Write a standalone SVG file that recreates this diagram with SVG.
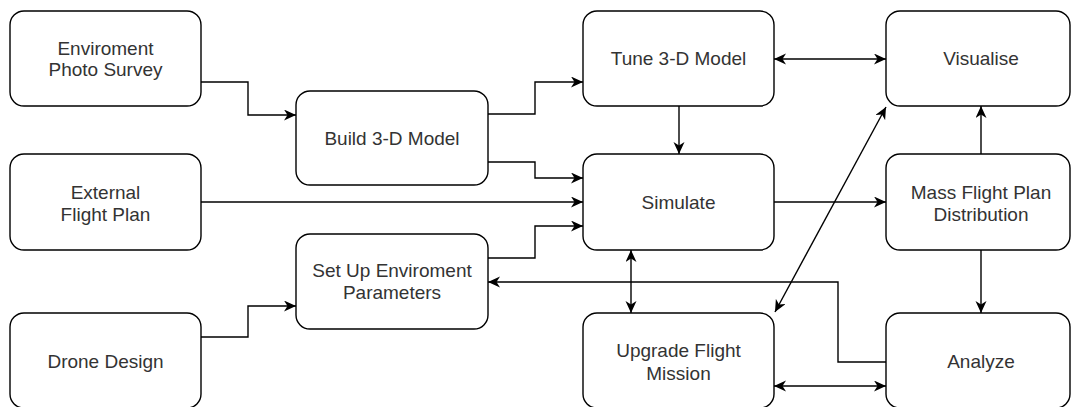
<svg xmlns="http://www.w3.org/2000/svg" width="1071" height="407" viewBox="0 0 1071 407">
<style>
.box{fill:#fff;stroke:#000;stroke-width:1.4}
.lbl{font-family:"Liberation Sans",Arial,sans-serif;font-size:19px;fill:#333;text-anchor:middle}
.c{fill:none;stroke:#000;stroke-width:1.4}
.a{marker-end:url(#ah)}
.b{marker-start:url(#ah);marker-end:url(#ah)}
</style>
<defs>
<marker id="ah" markerUnits="userSpaceOnUse" markerWidth="13" markerHeight="12" refX="12" refY="5.5" orient="auto-start-reverse">
<path d="M0,0 L12,5.5 L0,11 L3.5,5.5 Z" fill="#000"/>
</marker>
</defs>
<rect width="1071" height="407" fill="#fff"/>
<g id="connectors">
<path class="c a" d="M201,82 H248 V115 H296"/>
<path class="c a" d="M488,114 H535 V82 H583"/>
<path class="c a" d="M488,162 H535 V178 H583"/>
<path class="c a" d="M201,202 H583"/>
<path class="c a" d="M488,258 H535 V226 H583"/>
<path class="c a" d="M201,337 H248 V306 H296"/>
<path class="c a" d="M679,106 V154"/>
<path class="c b" d="M774,59 H886"/>
<path class="c a" d="M774,202 H886"/>
<path class="c a" d="M981,154 V106"/>
<path class="c a" d="M981,250 V313"/>
<path class="c b" d="M631,250 V313"/>
<path class="c a" d="M886,362 H838 V282 H488"/>
<path class="c b" d="M774,386 H886"/>
<path class="c b" d="M775,312 L886,107"/>
</g>
<g id="photo-survey">
<rect class="box" x="10" y="11" width="191" height="95" rx="14"/>
<text class="lbl" x="105.5" y="55">Enviroment</text>
<text class="lbl" x="105.5" y="76">Photo Survey</text>
</g>
<g id="external-flight-plan">
<rect class="box" x="10" y="154" width="191" height="96" rx="14"/>
<text class="lbl" x="105.5" y="199">External</text>
<text class="lbl" x="105.5" y="221">Flight Plan</text>
</g>
<g id="drone-design">
<rect class="box" x="10" y="313" width="191" height="95" rx="14"/>
<text class="lbl" x="105.5" y="368">Drone Design</text>
</g>
<g id="build-model">
<rect class="box" x="296" y="91" width="192" height="94" rx="14"/>
<text class="lbl" x="392" y="145">Build 3-D Model</text>
</g>
<g id="setup-env">
<rect class="box" x="296" y="234" width="192" height="95" rx="14"/>
<text class="lbl" x="392" y="277">Set Up Enviroment</text>
<text class="lbl" x="392" y="299">Parameters</text>
</g>
<g id="tune-model">
<rect class="box" x="583" y="11" width="191" height="95" rx="14"/>
<text class="lbl" x="678.5" y="65">Tune 3-D Model</text>
</g>
<g id="simulate">
<rect class="box" x="583" y="154" width="191" height="96" rx="14"/>
<text class="lbl" x="678.5" y="209">Simulate</text>
</g>
<g id="upgrade">
<rect class="box" x="583" y="313" width="191" height="95" rx="14"/>
<text class="lbl" x="678.5" y="357">Upgrade Flight</text>
<text class="lbl" x="678.5" y="380">Mission</text>
</g>
<g id="visualise">
<rect class="box" x="886" y="11" width="184" height="95" rx="14"/>
<text class="lbl" x="981" y="65">Visualise</text>
</g>
<g id="mass-flight">
<rect class="box" x="886" y="154" width="184" height="96" rx="14"/>
<text class="lbl" x="981" y="199">Mass Flight Plan</text>
<text class="lbl" x="981" y="221">Distribution</text>
</g>
<g id="analyze">
<rect class="box" x="886" y="313" width="184" height="95" rx="14"/>
<text class="lbl" x="981" y="368">Analyze</text>
</g>
</svg>
